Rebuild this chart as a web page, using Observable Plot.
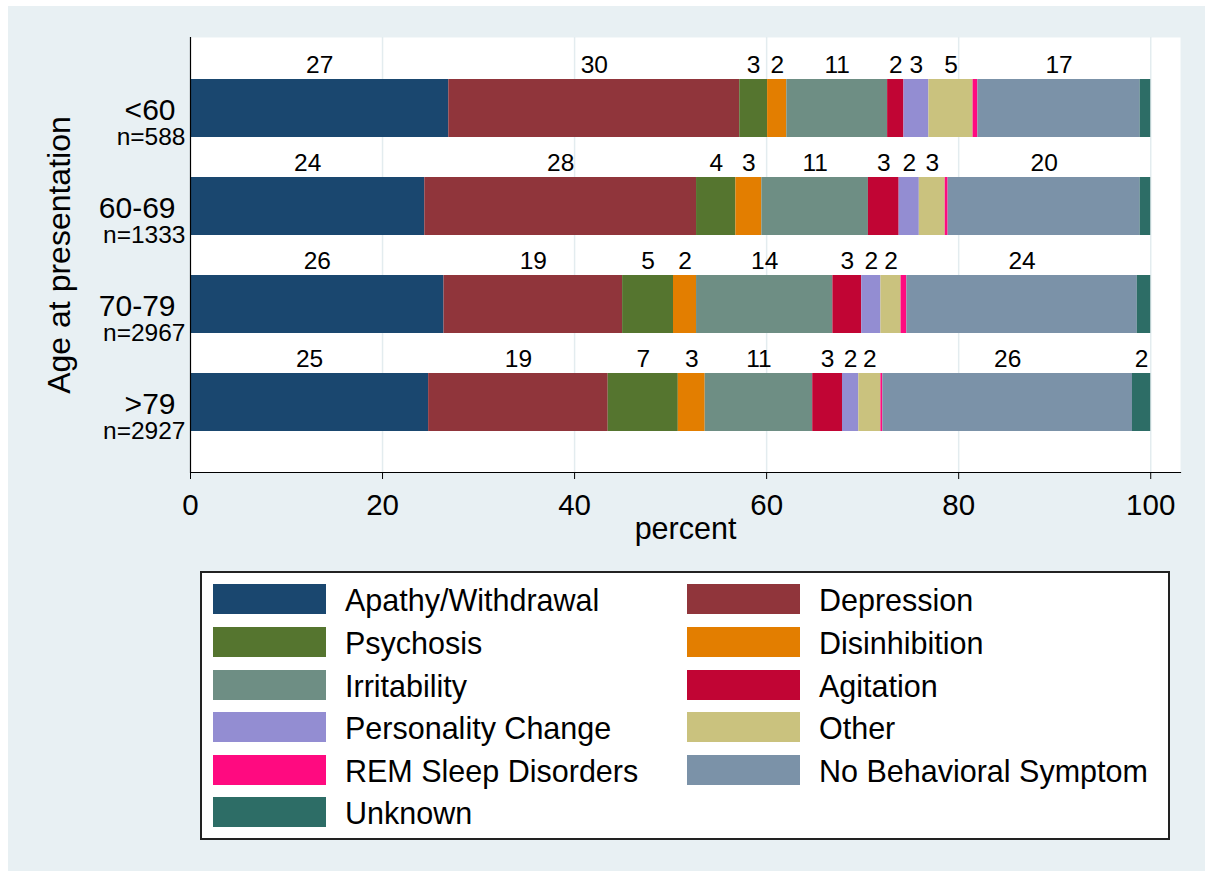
<!DOCTYPE html>
<html>
<head>
<meta charset="utf-8">
<script src="https://cdn.jsdelivr.net/npm/d3@7"></script>
<script src="https://cdn.jsdelivr.net/npm/@observablehq/plot@0.6"></script>
<style>
  html, body { margin: 0; padding: 0; background: #ffffff; width: 1212px; height: 878px; overflow: hidden; }
  body { position: relative; font-family: "Liberation Sans", Arial, Helvetica, sans-serif; }
  #bg { position: absolute; left: 8px; top: 6px; width: 1197px; height: 865px; background: #e8f0f3; }
  #chart { position: absolute; left: 0; top: 0; }
  #legendbox { position: absolute; left: 200px; top: 571px; width: 970px; height: 269px; box-sizing: border-box; border: 2px solid #222; background: #fff; }
  .sw { position: absolute; width: 113px; height: 30px; }
  .lt { position: absolute; font-size: 30.5px; line-height: 30px; color: #000; white-space: nowrap; }
</style>
</head>
<body>
<div id="bg"></div>
<div id="chart"></div>
<div id="legendbox"></div>
<div id="legend"></div>
<script>
const ages = ["<60", "60-69", "70-79", ">79"];
const ageCounts = ["n=588", "n=1333", "n=2967", "n=2927"];
const categories = [
  "Apathy/Withdrawal", "Depression", "Psychosis", "Disinhibition", "Irritability",
  "Agitation", "Personality Change", "Other", "REM Sleep Disorders",
  "No Behavioral Symptom", "Unknown"
];
const colors = [
  "#1a476f", "#90353b", "#55752f", "#e37e00", "#6e8e84",
  "#c10534", "#938dd2", "#cac27e", "#ff0a80", "#7b92a8", "#2d6d66"
];
// percent values per age group, in category order
const valuesLt60  = [26.9, 30.3, 2.9, 2.0, 10.5, 1.7, 2.6, 4.6, 0.5, 16.9, 1.1];
const values6069  = [24.4, 28.3, 4.1, 2.7, 11.1, 3.2, 2.1, 2.7, 0.3, 20.0, 1.1];
const values7079  = [26.4, 18.6, 5.3, 2.4, 14.2, 3.0, 2.0, 2.1, 0.6, 24.0, 1.4];
const valuesGt79  = [24.8, 18.7, 7.3, 2.8, 11.2, 3.1, 1.7, 2.3, 0.2, 26.0, 1.9];
const xTicks = [0, 20, 40, 60, 80, 100];

const allValues = [valuesLt60, values6069, values7079, valuesGt79];
const rows = ages.flatMap((a, i) => categories.map((c, j) => ({age: a, category: c, value: allValues[i][j]})));
const ageRows = ages.map((a, i) => ({age: a, n: ageCounts[i]}));

const font = '"Liberation Sans", Arial, Helvetica, sans-serif';

const chart = Plot.plot({
  width: 1212,
  height: 560,
  marginLeft: 190,
  marginRight: 32,
  marginTop: 37,
  marginBottom: 88,
  style: {background: "transparent", fontFamily: font, color: "#000", overflow: "visible"},
  x: {domain: [0, 103.1], label: null},
  y: {domain: ages, padding: 0.41, axis: null},
  color: {domain: categories, range: colors},
  marks: [
    Plot.frame({fill: "white", stroke: null}),
    Plot.gridX(xTicks.slice(1), {stroke: "#e3ecef", strokeOpacity: 1, strokeWidth: 1.5}),
    Plot.barX(rows, {x: "value", y: "age", fill: "category"}),
    Plot.text(rows, Plot.stackX({
      x: "value", y: "age", z: "category",
      text: d => d.value >= 1.5 ? String(Math.round(d.value)) : "",
      dy: -43, fontSize: 24.5, fill: "#000"
    })),
    Plot.axisX({ticks: xTicks, tickSize: 7, tickPadding: 15, fontSize: 29.5, label: null, stroke: "#000"}),
    Plot.frame({anchor: "bottom", stroke: "#000", strokeWidth: 1.2}),
    Plot.ruleX([0], {stroke: "#000", strokeWidth: 1.2}),
    Plot.text(ageRows, {x: () => 0, y: "age", text: "age", textAnchor: "end", dx: -15, dy: 2, fontSize: 30}),
    Plot.text(ageRows, {x: () => 0, y: "age", text: "n", textAnchor: "end", dx: -5, dy: 29, fontSize: 24.5}),
    Plot.text(["Age at presentation"], {frameAnchor: "left", textAnchor: "middle", dx: -131, rotate: -90, fontSize: 32}),
    Plot.text(["percent"], {frameAnchor: "bottom", dy: 66, fontSize: 30.5})
  ]
});
document.getElementById("chart").appendChild(chart);

// legend
const legend = document.getElementById("legend");
categories.forEach((c, k) => {
  const col = k % 2, row = Math.floor(k / 2);
  const cy = 599.3 + row * 42.6;
  const sw = document.createElement("div");
  sw.className = "sw";
  sw.style.left = (col === 0 ? 213 : 687) + "px";
  sw.style.top = (cy - 15) + "px";
  sw.style.background = colors[k];
  legend.appendChild(sw);
  const t = document.createElement("div");
  t.className = "lt";
  t.style.left = (col === 0 ? 345 : 819) + "px";
  t.style.top = (cy - 14) + "px";
  t.textContent = c;
  legend.appendChild(t);
});
</script>
</body>
</html>
